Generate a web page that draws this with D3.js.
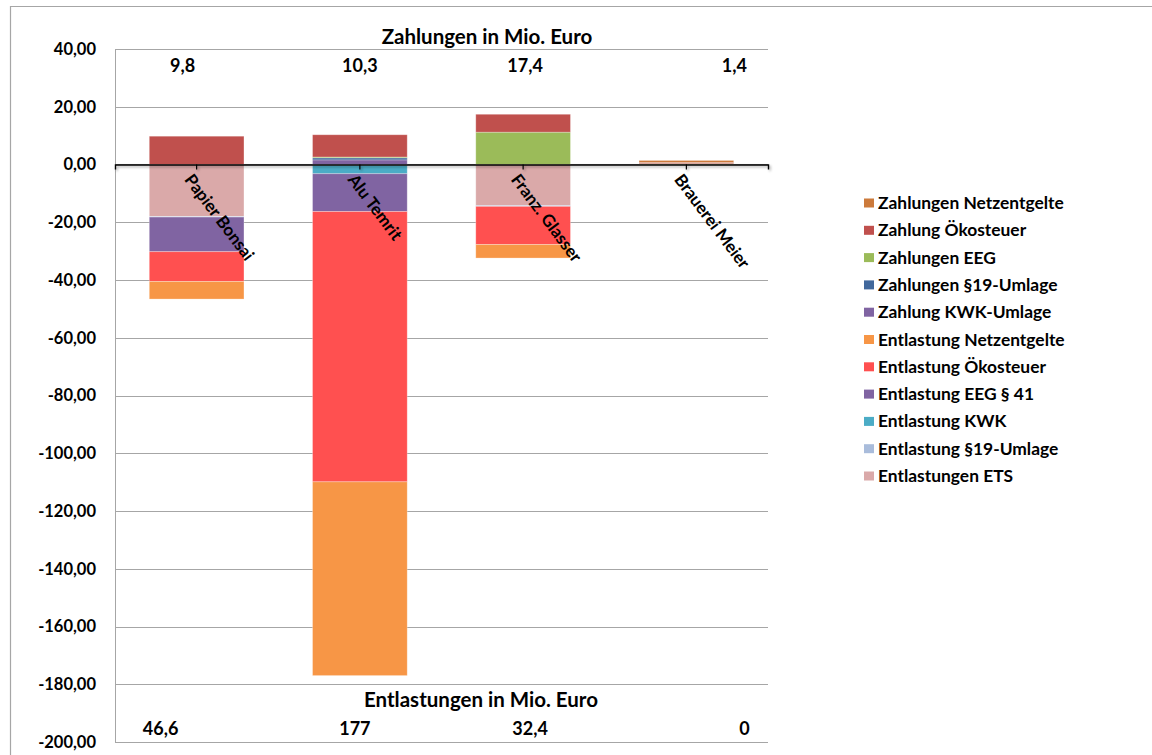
<!DOCTYPE html>
<html>
<head>
<meta charset="utf-8">
<script src="https://cdn.jsdelivr.net/npm/d3@7"></script>
<style>
  html, body { margin: 0; padding: 0; background: #fff; }
  svg text { font-family: Lato, "Open Sans", sans-serif; font-weight: bold; fill: #000; }
</style>
</head>
<body>
<svg id="chart" width="1152" height="755"></svg>
<script>
// Companies
const categories = ["Papier Bonsai", "Alu Temrit", "Franz. Glasser", "Brauerei Meier"];

// Relief (negative) and payment (positive) components in Mio. Euro, stacking order from zero outwards
const entlastungenETS        = [-18.0,   0.0, -14.2, 0.0];
const entlastungUmlage19     = [ -0.2,  -0.3,  -0.3, 0.0];
const entlastungKWK          = [  0.0,  -2.9,   0.0, 0.0];
const entlastungEEG41        = [-12.0, -13.1,   0.0, 0.0];
const entlastungOekosteuer   = [-10.3, -93.6, -13.2, 0.0];
const entlastungNetzentgelte = [ -6.1, -67.1,  -4.7, 0.0];
const zahlungKWKUmlage       = [  0.0,   1.6,   0.0, 0.0];
const zahlungenUmlage19      = [  0.0,   0.7,   0.0, 0.0];
const zahlungenEEG           = [  0.0,   0.3,  11.2, 0.3];
const zahlungOekosteuer      = [  9.8,   7.7,   6.2, 0.4];
const zahlungenNetzentgelte  = [  0.0,   0.0,   0.0, 0.7];

const seriesNames = [
  "Entlastungen ETS", "Entlastung §19-Umlage", "Entlastung KWK", "Entlastung EEG § 41",
  "Entlastung Ökosteuer", "Entlastung Netzentgelte",
  "Zahlung KWK-Umlage", "Zahlungen §19-Umlage", "Zahlungen EEG", "Zahlung Ökosteuer", "Zahlungen Netzentgelte"
];
const seriesValues = [
  entlastungenETS, entlastungUmlage19, entlastungKWK, entlastungEEG41,
  entlastungOekosteuer, entlastungNetzentgelte,
  zahlungKWKUmlage, zahlungenUmlage19, zahlungenEEG, zahlungOekosteuer, zahlungenNetzentgelte
];
const seriesColors = [
  "#DAA9A9", "#A9BCDB", "#4BACC6", "#8064A2",
  "#FF5050", "#F79646",
  "#8064A2", "#41689C", "#9BBB59", "#C0504D", "#CC7A3B"
];

// Y axis ticks
const yTicks = [40, 20, 0, -20, -40, -60, -80, -100, -120, -140, -160, -180, -200];

// Table for d3.stack
const table = categories.map((c, i) => {
  const row = { category: c };
  seriesNames.forEach((s, k) => { row[s] = seriesValues[k][i]; });
  return row;
});

const de = d3.formatLocale({ decimal: ",", thousands: ".", grouping: [3], currency: ["", " €"], minus: "-" });
const fmtTick = de.format(".2f");
const fmtTotal = v => de.format("~f")(Math.round(v * 10) / 10);

const svg = d3.select("#chart");
const plotLeft = 115, plotRight = 768, plotTop = 49, plotBottom = 742;

// Outer chart frame
svg.append("path")
  .attr("d", "M10.5,755 V6.5 H1152")
  .attr("fill", "none").attr("stroke", "#A6A6A6").attr("stroke-width", 1.2);

const x = d3.scaleBand().domain(categories).range([plotLeft, plotRight]).paddingInner(0.42).paddingOuter(0.21);
const y = d3.scaleLinear().domain([-200, 40]).range([plotBottom, plotTop]);

// Gridlines
svg.append("g").selectAll("line").data(yTicks).join("line")
  .attr("x1", plotLeft).attr("x2", plotRight)
  .attr("y1", d => Math.round(y(d)) + 0.5).attr("y2", d => Math.round(y(d)) + 0.5)
  .attr("stroke", "#A6A6A6").attr("stroke-width", 1);

// Vertical value axis line
svg.append("line")
  .attr("x1", plotLeft + 0.5).attr("x2", plotLeft + 0.5).attr("y1", y(40)).attr("y2", y(-200))
  .attr("stroke", "#A6A6A6").attr("stroke-width", 1);

// Y tick labels
svg.append("g").selectAll("text").data(yTicks).join("text")
  .attr("x", 96).attr("y", d => y(d)).attr("dy", "0.36em")
  .attr("text-anchor", "end").attr("font-size", 16.5)
  .text(d => fmtTick(d));

// Stacked bars
const stack = d3.stack().keys(seriesNames).offset(d3.stackOffsetDiverging);
const layers = stack(table);

svg.append("g").selectAll("g").data(layers).join("g")
  .attr("fill", (d, i) => seriesColors[i])
  .selectAll("rect").data(d => d).join("rect")
  .attr("x", d => x(d.data.category))
  .attr("width", x.bandwidth())
  .attr("y", d => y(Math.max(d[0], d[1])))
  .attr("height", d => Math.abs(y(d[0]) - y(d[1])))
  .attr("stroke", "rgba(255,255,255,0.35)").attr("stroke-width", 0.8);

// Category axis at zero with drop shadow
const defs = svg.append("defs");
const f = defs.append("filter").attr("id", "axshadow").attr("x", "-5%").attr("y", "-200%").attr("width", "110%").attr("height", "500%");
f.append("feDropShadow").attr("dx", 1.5).attr("dy", 1.5).attr("stdDeviation", 1).attr("flood-color", "#000").attr("flood-opacity", 0.35);

const xAxis = svg.append("g")
  .attr("transform", `translate(0,${y(0)})`)
  .attr("filter", "url(#axshadow)")
  .call(d3.axisBottom(x).tickSize(5).tickSizeOuter(5).tickFormat(""));
xAxis.select(".domain").attr("stroke", "#000").attr("stroke-width", 1.4);
xAxis.selectAll(".tick line").attr("stroke", "#000").attr("stroke-width", 1.2);

// Rotated category labels
svg.append("g").selectAll("text").data(categories).join("text")
  .attr("transform", d => `translate(${x(d) + x.bandwidth() / 2 - 2},${y(0) + 7}) rotate(53)`)
  .attr("dy", "0.8em")
  .attr("text-anchor", "start").attr("font-size", 17)
  .text(d => d);

// Totals per company
const posTotals = categories.map((c, i) => d3.sum(seriesValues, s => Math.max(0, s[i])));
const negTotals = categories.map((c, i) => -d3.sum(seriesValues, s => Math.min(0, s[i])));

// Horizontal offsets of the total labels from their bar centres
const topShift = [-14, 0, 2, 48];
const bottomShift = [-36, -5, 7, 58];

svg.append("text").attr("x", 487).attr("y", 44)
  .attr("text-anchor", "middle").attr("font-size", 20.5).text("Zahlungen in Mio. Euro");
svg.append("g").selectAll("text").data(categories).join("text")
  .attr("x", (d, i) => x(d) + x.bandwidth() / 2 + topShift[i]).attr("y", 72)
  .attr("text-anchor", "middle").attr("font-size", 18)
  .text((d, i) => fmtTotal(posTotals[i]));

svg.append("text").attr("x", 481).attr("y", 707)
  .attr("text-anchor", "middle").attr("font-size", 20.5).text("Entlastungen in Mio. Euro");
svg.append("g").selectAll("text").data(categories).join("text")
  .attr("x", (d, i) => x(d) + x.bandwidth() / 2 + bottomShift[i]).attr("y", 735)
  .attr("text-anchor", "middle").attr("font-size", 18)
  .text((d, i) => fmtTotal(negTotals[i]));

// Legend (reverse stacking order)
const legendItems = seriesNames.map((n, i) => ({ name: n, color: seriesColors[i] })).reverse();
const lg = svg.append("g").attr("transform", "translate(864,203)");
const li = lg.selectAll("g").data(legendItems).join("g")
  .attr("transform", (d, i) => `translate(0,${i * 27.3})`);
li.append("rect").attr("x", 0).attr("y", -4.5).attr("width", 10).attr("height", 9).attr("fill", d => d.color);
li.append("text").attr("x", 14).attr("y", 0).attr("dy", "0.35em").attr("font-size", 17.4).text(d => d.name);
</script>
</body>
</html>
